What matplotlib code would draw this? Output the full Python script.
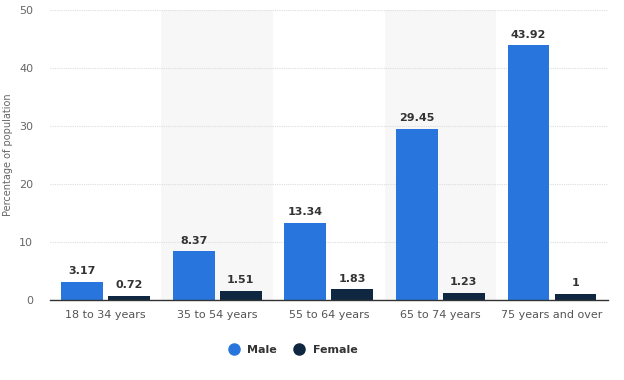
import numpy as np
import matplotlib.pyplot as plt
from matplotlib.lines import Line2D

categories = ['18 to 34 years', '35 to 54 years', '55 to 64 years', '65 to 74 years', '75 years and over']
male = [3.17, 8.37, 13.34, 29.45, 43.92]
female = [0.72, 1.51, 1.83, 1.23, 1]
male_labels = ['3.17', '8.37', '13.34', '29.45', '43.92']
female_labels = ['0.72', '1.51', '1.83', '1.23', '1']


def main():
    fig = plt.figure(figsize=(6.24, 3.8), dpi=100)
    ax = fig.add_axes([0.080, 0.2105, 0.894, 0.763])

    x = np.arange(len(categories))
    w = 0.375
    off = 0.21
    c_male = '#2876dd'
    c_female = '#0f2740'

    # alternating shaded bands
    for i in x:
        if i % 2 == 1:
            ax.axvspan(i - 0.5, i + 0.5, color='#f7f7f7', zorder=0, lw=0)

    ax.bar(x - off, male, width=w, color=c_male, zorder=3)
    ax.bar(x + off, female, width=w, color=c_female, zorder=3)

    for xi, v, t in zip(x, male, male_labels):
        ax.text(xi - off, v + 1.0, t, ha='center', va='bottom', fontsize=8,
                fontweight='bold', color='#333333')
    for xi, v, t in zip(x, female, female_labels):
        ax.text(xi + off, v + 1.0, t, ha='center', va='bottom', fontsize=8,
                fontweight='bold', color='#333333')

    ax.set_xlim(-0.5, len(categories) - 0.5)
    ax.set_ylim(0, 50)
    ax.set_yticks([0, 10, 20, 30, 40, 50])
    ax.yaxis.grid(True, color='#dddddd', linestyle=(0, (1, 1)), lw=0.8, zorder=1)
    ax.set_axisbelow(True)

    for s in ['top', 'right', 'left']:
        ax.spines[s].set_visible(False)
    ax.spines['bottom'].set_color('#333333')
    ax.spines['bottom'].set_linewidth(1.0)
    ax.spines['bottom'].set_zorder(4)

    ax.tick_params(axis='y', length=0, labelsize=8, labelcolor='#666666', pad=12)
    ax.tick_params(axis='x', length=0, labelsize=8, labelcolor='#555555', pad=7)
    ax.set_xticks(x)
    ax.set_xticklabels(categories)
    ax.set_ylabel('Percentage of population', fontsize=7, color='#666666')
    ax.yaxis.set_label_coords(-0.066, 0.5)

    handles = [
        Line2D([], [], marker='o', linestyle='none', markersize=8, color=c_male, label='Male'),
        Line2D([], [], marker='o', linestyle='none', markersize=8, color=c_female, label='Female'),
    ]
    fig.legend(handles=handles, loc='center', bbox_to_anchor=(0.465, 0.08), ncol=2,
               frameon=False, prop={'size': 8, 'weight': 'bold'}, handletextpad=0.2,
               columnspacing=1.0, labelcolor='#333333')

    fig.savefig('out.png', dpi=100)


if __name__ == "__main__":
    main()
